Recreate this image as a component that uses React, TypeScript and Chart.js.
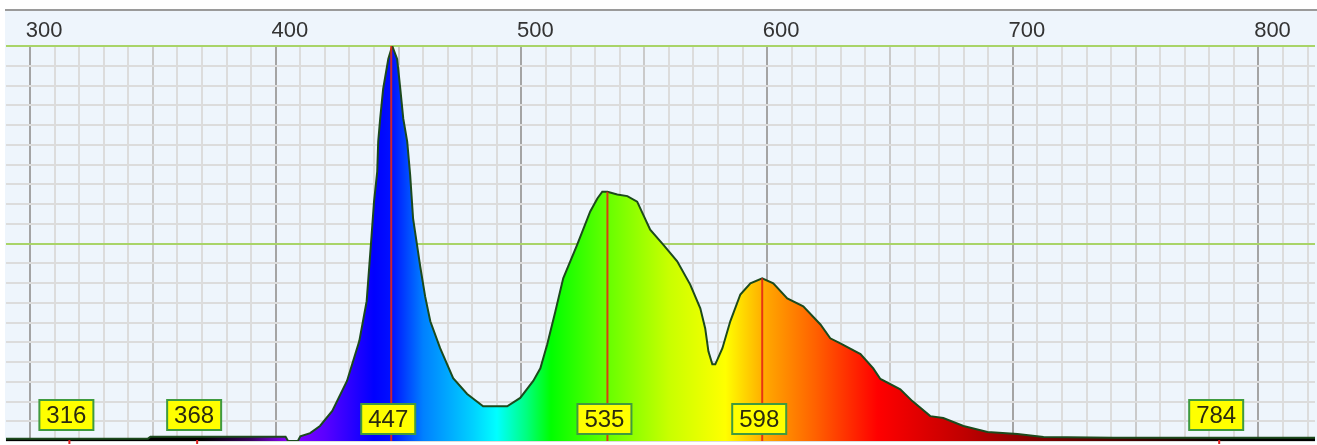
import React, { useEffect, useRef } from "react";
import { Chart, registerables } from "chart.js";

Chart.register(...registerables);

// Spectrum: wavelength (nm) and relative intensity (0..1)
const wavelengths = [
  290, 348, 349, 404, 405, 409, 410, 414, 418, 423, 429, 434, 437, 439, 440,
  441.3, 441.7, 442.5, 443.7, 445.8, 447.4, 449.4, 450.7, 451.9, 453.5, 454.7,
  455.9, 458.8, 460.8, 462.9, 466.9, 472.2, 477.9, 484.4, 494.2, 499.5, 504.8,
  507.7, 510.5, 513.8, 517, 522.7, 528, 530.9, 532.9, 535, 539, 543.1, 547.1,
  552.4, 557.7, 563.4, 568.7, 572.8, 574.8, 576.1, 577.7, 578.9, 581.8, 585,
  589.1, 593.2, 598, 602.5, 608.2, 614.7, 621.7, 625.7, 629.8, 638, 643.2,
  646.1, 654.2, 659.1, 666.4, 671.7, 679.9, 689.7, 701.9, 712.5, 741, 823,
];
const intensities = [
  0.006, 0.006, 0.011, 0.011, 0.0, 0.0, 0.012, 0.02, 0.038, 0.076, 0.152, 0.253,
  0.354, 0.52, 0.606, 0.682, 0.758, 0.816, 0.891, 0.967, 1.0, 0.967, 0.891,
  0.816, 0.758, 0.674, 0.563, 0.442, 0.366, 0.303, 0.235, 0.159, 0.119, 0.088,
  0.088, 0.109, 0.152, 0.184, 0.245, 0.328, 0.412, 0.497, 0.581, 0.614, 0.631,
  0.631, 0.624, 0.62, 0.606, 0.535, 0.497, 0.455, 0.396, 0.336, 0.285, 0.227,
  0.194, 0.194, 0.235, 0.303, 0.371, 0.399, 0.412, 0.399, 0.361, 0.341, 0.295,
  0.26, 0.247, 0.22, 0.184, 0.157, 0.131, 0.101, 0.063, 0.058, 0.038, 0.023,
  0.018, 0.01, 0.008, 0.008,
];

// Peak marker lines (wavelength and height)
const peakMarkers = [447, 535, 598];
const peakHeights = [1.0, 0.631, 0.412];

// Yellow wavelength tags along the bottom
const tagValues = [316, 368, 447, 535, 598, 784];

// Axis
const axisLabels = [300, 400, 500, 600, 700, 800];
const X_MIN = 290.2;
const X_MAX = 823;
const MINOR_STEP = 10;

// Spectral colours for the fill
const gradientNm = [290, 370, 390, 405, 420, 440, 447, 460, 480, 490, 502, 512, 535, 560, 583, 600, 620, 645, 680, 710, 750, 790, 823];
const gradientColors = [
  "#000000", "#000000", "#3a0060", "#8a00ff", "#5a00ff", "#0000ff", "#0010ff",
  "#0080ff", "#00d0ff", "#00ffff", "#00ff80", "#00ff00", "#66ff00", "#c8ff00",
  "#ffff00", "#ffa500", "#ff6000", "#ff0000", "#c00000", "#800000", "#400000",
  "#000000", "#000000",
];

const FONT = "'Liberation Sans', Arial, sans-serif";

const backgroundPlugin = {
  id: "bgPanel",
  beforeDraw(chart: any) {
    const { ctx, width, chartArea } = chart;
    ctx.save();
    ctx.fillStyle = "#ffffff";
    ctx.fillRect(0, 0, width, chart.height);
    ctx.fillStyle = "#eef5fc";
    ctx.fillRect(5, 10, width - 5, chartArea.bottom - 10);
    ctx.fillStyle = "#9a9a9a";
    ctx.fillRect(5, 9, width - 5, 2);
    ctx.restore();
  },
};

const tagPlugin = {
  id: "tags",
  afterDatasetsDraw(chart: any) {
    const { ctx, chartArea, scales } = chart;
    ctx.save();
    tagValues.forEach((v) => {
      const px = scales.x.getPixelForValue(v);
      const isPeak = peakMarkers.includes(v);
      if (!isPeak) {
        ctx.fillStyle = "#e02020";
        ctx.fillRect(px - 1, chartArea.bottom - 1, 2, 4);
      }
      const w = 54;
      const h = 30;
      const cx = px - 3;
      const top = chartArea.bottom - (isPeak ? 37 : 41);
      ctx.fillStyle = "#ffff00";
      ctx.fillRect(cx - w / 2, top, w, h);
      ctx.strokeStyle = "#3f9a3f";
      ctx.lineWidth = 2;
      ctx.strokeRect(cx - w / 2, top, w, h);
      ctx.fillStyle = "#2a2a10";
      ctx.font = `24px ${FONT}`;
      ctx.textAlign = "center";
      ctx.textBaseline = "middle";
      ctx.fillText(String(v), cx, top + h / 2 + 1);
    });
    ctx.restore();
  },
};

export default function App() {
  const canvasRef = useRef<HTMLCanvasElement | null>(null);

  useEffect(() => {
    if (!canvasRef.current) return;

    const spectrum = wavelengths.map((x, i) => ({ x, y: intensities[i] }));
    const markerSets = peakMarkers.map((nm, i) => ({
      type: "line" as const,
      data: [
        { x: nm, y: 0 },
        { x: nm, y: peakHeights[i] },
      ],
      borderColor: "rgba(228,40,20,0.9)",
      borderWidth: 2,
      pointRadius: 0,
      fill: false,
      order: 0,
    }));

    const chart = new Chart(canvasRef.current, {
      type: "line",
      data: {
        datasets: [
          {
            data: spectrum,
            borderColor: "#1c4a1c",
            borderWidth: 2,
            pointRadius: 0,
            tension: 0,
            fill: "origin",
            order: 1,
            backgroundColor: (c: any) => {
              const ch = c.chart;
              const area = ch.chartArea;
              if (!area) return "transparent";
              const g = ch.ctx.createLinearGradient(area.left, 0, area.right, 0);
              const span = area.right - area.left;
              gradientNm.forEach((nm, i) => {
                const p = (ch.scales.x.getPixelForValue(nm) - area.left) / span;
                g.addColorStop(Math.min(1, Math.max(0, p)), gradientColors[i]);
              });
              return g;
            },
          },
          ...markerSets,
        ] as any,
      },
      options: {
        animation: false,
        responsive: false,
        maintainAspectRatio: false,
        events: [],
        layout: { padding: { top: 15.6, left: 6, right: 2, bottom: 4 } },
        plugins: {
          legend: { display: false },
          tooltip: { enabled: false },
        },
        scales: {
          x: {
            type: "linear",
            position: "top",
            min: X_MIN,
            max: X_MAX,
            afterBuildTicks: (scale: any) => {
              const ticks = [];
              for (let v = Math.ceil(X_MIN / MINOR_STEP) * MINOR_STEP; v <= X_MAX; v += MINOR_STEP) {
                ticks.push({ value: v });
              }
              scale.ticks = ticks;
            },
            ticks: {
              autoSkip: false,
              maxRotation: 0,
              padding: 2,
              labelOffset: 14,
              color: "#333333",
              font: { family: FONT, size: 22 },
              callback: (v: any) => (axisLabels.includes(Number(v)) ? String(v) : ""),
            },
            grid: {
              drawTicks: false,
              lineWidth: 2,
              color: (c: any) => {
                const v = Math.round(c.tick?.value ?? 0);
                if (v % 100 === 0) return "#a4a4a4";
                if (v % 50 === 0) return "#cacaca";
                return "#dcdcdc";
              },
            },
            border: { display: false },
          },
          y: {
            type: "linear",
            min: 0,
            max: 1,
            ticks: { display: false, stepSize: 0.05 },
            grid: {
              drawTicks: false,
              lineWidth: 2,
              color: (c: any) => {
                const v = c.tick?.value ?? 0;
                if (Math.abs(v - 0.5) < 1e-6 || Math.abs(v - 1) < 1e-6) return "#a9d468";
                return "#dcdcdc";
              },
            },
            border: { display: false },
          },
        },
      },
      plugins: [backgroundPlugin, tagPlugin],
    });

    return () => chart.destroy();
  }, []);

  return (
    <div style={{ position: "absolute", left: 0, top: 0, width: 1317, height: 445 }}>
      <canvas ref={canvasRef} width={1317} height={445} style={{ display: "block" }} />
    </div>
  );
}
